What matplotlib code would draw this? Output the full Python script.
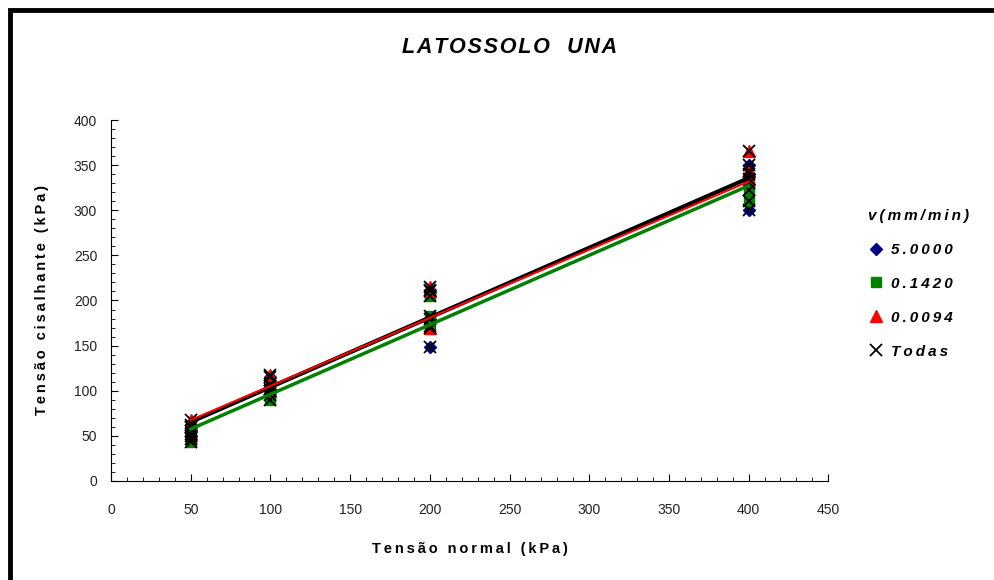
import numpy as np
import matplotlib
matplotlib.use("Agg")
import matplotlib.pyplot as plt
from matplotlib.patches import Rectangle

plt.rcParams["font.family"] = ["Liberation Sans", "DejaVu Sans"]

# normal stress levels (kPa)
normal = [50, 50, 50, 100, 100, 100, 200, 200, 200, 400, 400, 400]

# shear stress (kPa) per displacement rate
v_5000 = [50, 60, 55, 115, 105, 100, 148, 180, 212, 350, 340, 300]
v_0142 = [43, 47, 60, 90, 95, 102, 205, 183, 172, 330, 322, 310]
v_0094 = [68, 52, 62, 118, 108, 100, 215, 210, 170, 366, 343, 335]

# fitted lines (intercept, slope)
fit_5000 = (26.8, 0.772)
fit_0142 = (19.1, 0.770)
fit_0094 = (29.8, 0.755)
fit_todas = (26.8, 0.772)

labels = ["5.0000", "0.1420", "0.0094", "Todas"]


def spaced(s, sep="\u2009"):
    # the original chart has very wide letter spacing
    return sep.join(s)


fig = plt.figure(figsize=(9.94, 5.8), dpi=100)
ax = fig.add_axes([0.1117, 0.1707, 0.7216, 0.6224])

ax.plot(normal, v_5000, linestyle="none", marker="D", color="#000080", markersize=6,
        label=spaced(labels[0]), zorder=3)
ax.plot(normal, v_0142, linestyle="none", marker="s", color="#008000", markersize=7,
        label=spaced(labels[1]), zorder=3)
ax.plot(normal, v_0094, linestyle="none", marker="^", color="#FF0000", markersize=8,
        label=spaced(labels[2]), zorder=3)
todas = v_5000 + v_0142 + v_0094
ax.plot(normal * 3, todas, linestyle="none", marker="x", color="black", markersize=8,
        markeredgewidth=1.3, label=spaced(labels[3]), zorder=4)

xs = np.array([50, 400])
ax.plot(xs, fit_5000[0] + fit_5000[1] * xs, color="#000080", lw=2, zorder=5)
ax.plot(xs, fit_0142[0] + fit_0142[1] * xs, color="#008000", lw=2.5, zorder=5)
ax.plot(xs, fit_todas[0] + fit_todas[1] * xs, color="black", lw=3, zorder=6)
ax.plot(xs, fit_0094[0] + fit_0094[1] * xs, color="#FF0000", lw=1.5, zorder=7)

ax.set_xlim(0, 450)
ax.set_ylim(0, 400)
ax.set_xticks(np.arange(0, 451, 50))
ax.set_yticks(np.arange(0, 401, 50))
ax.set_xticks(np.arange(0, 451, 10), minor=True)
ax.set_yticks(np.arange(0, 401, 10), minor=True)
ax.tick_params(which="both", direction="in", labelsize=10, labelcolor="#222222")
ax.tick_params(which="major", length=5)
ax.tick_params(which="minor", length=3)
ax.tick_params(axis="x", pad=16)
ax.tick_params(axis="y", pad=10)
for s in ["top", "right"]:
    ax.spines[s].set_visible(False)

ax.set_xlabel(spaced("Tensão normal (kPa)"), fontsize=10.5, fontweight="bold", labelpad=18)
ax.set_ylabel(spaced("Tensão cisalhante (kPa)"), fontsize=10.5, fontweight="bold", labelpad=18)
fig.text(0.513, 0.918, spaced("LATOSSOLO  UNA", "\u200a"), fontsize=15.5, fontweight="bold",
         fontstyle="italic", ha="center", va="center")

leg = ax.legend(loc="upper left", bbox_to_anchor=(0.867, 0.65), bbox_transform=fig.transFigure,
                frameon=False, title=spaced("v(mm/min)"), handletextpad=0.5, handlelength=1.0,
                labelspacing=1.3, borderaxespad=0,
                prop={"weight": "bold", "style": "italic", "size": 11})
leg.get_title().set_fontweight("bold")
leg.get_title().set_fontstyle("italic")
leg.get_title().set_fontsize(11)
leg._legend_box.align = "left"

# chart border, cut off at right and bottom
fig.patches.append(Rectangle((10 / 994, -0.1), 1.2, 1.1 - 10 / 580,
                             transform=fig.transFigure, fill=False, edgecolor="black",
                             linewidth=3.5))

fig.savefig("out.png", dpi=100)
